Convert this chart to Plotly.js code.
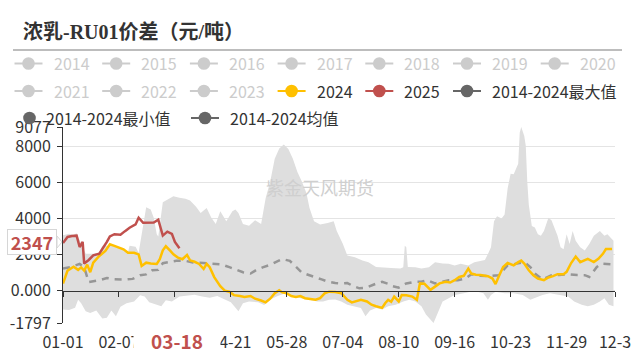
<!DOCTYPE html>
<html><head><meta charset="utf-8">
<script src="https://cdn.plot.ly/plotly-3.0.1.min.js"></script>
<style>html,body{margin:0;padding:0;background:#fff;}#chart{width:640px;height:355px;}</style>
</head><body><div id="chart"></div>
<script>
// ---------- data (MM-DD on a 2024 calendar axis) ----------
const tickDates = ['01-01','02-07','03-15','04-21','05-28','07-04','08-10','09-16','10-23','11-29','12-31'];
const tickLabels = ['01-01','02-07','','04-21','05-28','07-04','08-10','09-16','10-23','11-29','12-3'];
const yTickVals = [-1797, 0, 2000, 4000, 6000, 8000, 9077];
const yTickText = ['-1797', '0.000', '2000', '4000', '6000', '8000', '9077'];

const maxDates = ['01-01','01-05','01-08','01-10','01-13','01-16','01-21','01-25','01-27','02-05','02-09','02-13','02-14','02-18','02-20','02-23','02-25','02-28','03-01','03-03','03-04','03-07','03-11','03-14','03-18','03-22','03-25','03-29','04-01','04-05','04-08','04-11','04-14','04-18','04-22','04-24','04-26','04-29','05-03','05-07','05-11','05-14','05-17','05-20','05-23','05-26','05-29','06-01','06-04','06-07','06-10','06-12','06-15','06-19','06-24','06-28','06-30','07-04','07-07','07-12','07-17','07-21','07-26','07-31','08-05','08-11','08-13','08-14','08-15','08-16','08-21','08-25','08-30','09-03','09-08','09-12','09-16','09-20','09-25','09-29','10-03','10-06','10-08','10-10','10-12','10-14','10-17','10-19','10-21','10-23','10-25','10-28','10-29','10-30','11-01','11-02','11-03','11-04','11-06','11-08','11-10','11-12','11-14','11-17','11-19','11-21','11-23','11-25','11-27','11-29','12-01','12-03','12-05','12-08','12-11','12-14','12-17','12-21','12-24','12-26','12-30'];
const maxVals = [3070,3150,3100,3180,2600,2040,2050,2100,2490,2490,2310,2130,2490,2440,2100,3490,4620,4500,4036,3130,3000,4900,5100,5230,5150,5100,5000,4650,4300,4580,4050,3700,4400,3850,4400,4500,4300,3700,3600,3900,3700,5120,6040,7310,7890,8100,7850,7310,6580,6040,5400,4580,3850,3670,3750,3850,3310,2600,1950,1850,1670,1580,1310,1300,1250,1220,1300,2490,2400,1310,1300,1220,1300,1580,1500,1490,1400,1490,1400,1580,1670,1700,2036,2400,3850,4130,4000,4220,5670,6490,6450,7040,8760,9077,8580,8040,6040,4760,3580,3500,3130,3050,3310,4036,3900,3490,3040,2400,2300,3130,2580,3310,2760,2400,2220,2580,3040,3310,3050,3130,2760];

const minDates = ['01-01','01-05','01-09','01-11','01-13','01-16','01-19','01-23','01-27','01-30','02-02','02-05','02-08','02-12','02-17','02-21','02-24','02-27','03-02','03-06','03-09','03-13','03-18','03-22','03-28','04-02','04-07','04-12','04-17','04-21','04-26','04-29','05-03','05-09','05-13','05-17','05-22','05-27','06-01','06-06','06-12','06-17','06-21','06-25','06-29','07-03','07-07','07-12','07-16','07-19','07-22','07-26','07-30','08-03','08-08','08-13','08-17','08-21','08-25','08-28','09-02','09-05','09-08','09-12','09-16','09-22','09-27','10-01','10-05','10-08','10-10','10-13','10-19','10-25','10-31','11-05','11-08','11-13','11-18','11-25','11-30','12-04','12-09','12-13','12-17','12-21','12-24','12-27','12-30'];
const minVals = [-1050,-1080,-950,-510,-700,-1145,-1240,-1100,-1550,-1500,-1100,-1420,-900,-700,-600,-260,-330,-650,-750,-870,-540,-600,-330,-300,-236,-330,-400,-300,-500,-650,-1145,-700,-600,-650,-800,-500,-300,-145,-250,-420,-510,-600,-600,-510,-500,-600,-780,-870,-960,-1420,-1100,-960,-1050,-870,-780,-600,-510,-600,-870,-1330,-1797,-1200,-600,-420,-240,-150,-55,-60,-145,-510,-250,-60,-145,-145,-250,-510,-420,-250,-145,-250,-327,-600,-780,-870,-780,-600,-420,-780,-870];

const avgDates = ['01-01','01-06','01-12','01-15','01-18','01-22','01-26','01-30','02-04','02-11','02-16','02-21','02-25','02-29','03-04','03-07','03-12','03-16','03-22','03-27','04-03','04-10','04-15','04-20','04-25','04-29','05-04','05-08','05-12','05-17','05-21','05-25','05-30','06-03','06-07','06-12','06-16','06-20','06-24','06-29','07-03','07-07','07-11','07-15','07-19','07-23','07-27','07-30','08-03','08-06','08-10','08-15','08-20','08-25','08-29','09-03','09-08','09-12','09-18','09-23','09-27','10-03','10-08','10-15','10-21','10-28','11-01','11-05','11-08','11-13','11-19','11-24','11-30','12-06','12-11','12-14','12-19','12-22','12-30'];
const avgVals = [1220,1300,1480,1290,470,520,600,700,630,610,650,850,900,1130,1150,1520,1570,1650,1650,1560,1530,1480,1450,1300,1150,1020,950,1150,1290,1430,1600,1750,1650,1350,1000,850,750,620,500,420,400,420,250,127,150,300,420,490,380,250,164,400,480,490,580,400,490,580,580,670,910,820,800,855,1400,1490,1580,1310,945,620,855,860,910,860,855,760,1310,1490,1450];

const y2024Dates = ['01-01','01-04','01-08','01-11','01-13','01-15','01-17','01-19','01-21','01-25','01-29','02-01','02-04','02-07','02-10','02-13','02-17','02-20','02-22','02-25','02-28','03-03','03-05','03-07','03-09','03-12','03-14','03-17','03-20','03-23','03-25','03-28','03-31','04-03','04-05','04-07','04-10','04-14','04-17','04-20','04-23','04-27','04-30','05-04','05-07','05-11','05-14','05-17','05-20','05-23','05-25','05-28','05-31','06-03','06-06','06-09','06-13','06-16','06-19','06-22','06-25','06-29','07-03','07-07','07-10','07-13','07-16','07-20','07-23','07-26','07-30','08-01','08-03','08-05','08-07','08-10','08-12','08-15','08-19','08-22','08-24','08-27','08-31','09-03','09-06','09-10','09-13','09-16','09-19','09-22','09-25','09-27','09-30','10-03','10-08','10-11','10-13','10-15','10-18','10-21','10-25','10-28','10-30','11-01','11-04','11-07','11-10','11-14','11-17','11-20','11-23','11-27','11-29','12-02','12-05','12-08','12-11','12-13','12-17','12-20','12-23','12-25','12-29'];
const y2024Vals = [390,1110,1330,1150,1290,1110,1440,1020,1550,1920,2200,2570,2480,2380,2290,2100,2100,2010,1370,1550,1500,1480,1740,2240,2460,2200,2010,1830,1740,1980,1680,1600,1480,1200,1480,1300,750,250,0,-60,-250,-300,-350,-300,-450,-550,-650,-450,-150,20,-100,-150,-300,-350,-300,-420,-450,-510,-420,-150,-60,-80,-145,-510,-650,-600,-510,-600,-780,-870,-960,-700,-510,-620,-330,-600,-240,-260,-330,-510,400,380,40,220,400,490,450,580,760,820,1220,945,880,860,800,670,364,760,1310,1530,1400,1580,1670,1500,1130,855,670,580,730,800,910,910,1040,1530,1890,1580,1710,1760,1580,1760,2040,2310,2310];

const y2025Dates = ['01-01','01-04','01-07','01-10','01-12','01-14','01-15','01-18','01-21','01-25','01-30','02-01','02-04','02-08','02-11','02-14','02-18','02-20','02-23','02-26','03-01','03-04','03-07','03-10','03-13','03-15','03-18'];
const y2025Vals = [2640,2980,3030,3050,2420,2700,1500,1700,1960,2050,2700,3010,3130,3100,3300,3490,3670,4040,3760,3760,3780,3930,3050,3270,3150,2700,2347];

const pointerDate = '03-18';
const pointerValue = 2347;

const legendNames = ['2014','2015','2016','2017','2018','2019','2020','2021','2022','2023','2024','2025','2014-2024最大值','2014-2024最小值','2014-2024均值'];

// ---------- helpers ----------
const D = a => a.map(d => '2024-' + d);
const W = 640, H = 355, ML = 63, MR = 25, MT = 127, MB = 32;
const PW = W - ML - MR, PH = H - MT - MB;
const px2x = p => (p - ML) / PW;
const py2y = p => (H - MB - p) / PH;
const FONT = 'Noto Sans CJK SC, Noto Sans, sans-serif';
const RED = '#C0504D', YEL = '#FFC000', GRAYL = '#cccccc', DARK = '#666666';
const yMin = yTickVals[0], yMax = yTickVals[yTickVals.length - 1];

const traces = [
  {x: D(minDates), y: minVals, type: 'scatter', mode: 'lines', line: {width: 0, color: '#dcdcdc'}, hoverinfo: 'skip', showlegend: false},
  {x: D(maxDates), y: maxVals, type: 'scatter', mode: 'lines', line: {width: 0, color: '#dcdcdc'}, fill: 'tonexty', fillcolor: '#dedede', hoverinfo: 'skip', showlegend: false},
  {x: D(avgDates), y: avgVals, type: 'scatter', mode: 'lines', line: {width: 2.5, color: '#969696', dash: '7px,6px'}, hoverinfo: 'skip', showlegend: false},
  {x: D(y2024Dates), y: y2024Vals, type: 'scatter', mode: 'lines', line: {width: 2.5, color: YEL}, hoverinfo: 'skip', showlegend: false},
  {x: D(y2025Dates), y: y2025Vals, type: 'scatter', mode: 'lines', line: {width: 2.5, color: RED}, hoverinfo: 'skip', showlegend: false},
  {x: D([tickDates[0]]), y: [null], xaxis: 'x2', type: 'scatter', mode: 'lines', hoverinfo: 'skip', showlegend: false}
];

// ---------- legend (drawn as shapes + text) ----------
const shapes = [], annotations = [];
function legendItem(name, cx, cy, color, textColor, withLine, textDx) {
  if (withLine) shapes.push({type: 'line', xref: 'paper', yref: 'paper', x0: px2x(cx - 14), x1: px2x(cx + 14), y0: py2y(cy), y1: py2y(cy), line: {color: color, width: 2}});
  shapes.push({type: 'circle', xref: 'paper', yref: 'paper', x0: px2x(cx - 6.3), x1: px2x(cx + 6.3), y0: py2y(cy + 6.3), y1: py2y(cy - 6.3), fillcolor: color, line: {width: 0}});
  annotations.push({xref: 'paper', yref: 'paper', x: px2x(cx + textDx), y: py2y(cy), xanchor: 'left', yanchor: 'middle', text: name, showarrow: false, font: {family: FONT, size: 16, color: textColor}});
}
const rowY = [63.5, 91, 118];
const colX = i => 28.5 + 87.7 * i;
legendNames.forEach((n, i) => {
  let color = GRAYL, tc = GRAYL;
  if (n === '2024') { color = YEL; tc = '#333'; }
  else if (n === '2025') { color = RED; tc = '#333'; }
  else if (n.indexOf('-') > 0) { color = DARK; tc = '#333'; }
  if (i < 7) legendItem(n, colX(i), rowY[0], color, tc, true, 23);
  else if (i < 13) legendItem(n, colX(i - 7), rowY[1], color, tc, true, 23);
  else if (i === 13) legendItem(n, 29.5, rowY[2], color, tc, false, 14);
  else legendItem(n, 205, rowY[2], color, tc, true, 23);
});

// rule under the title
shapes.push({type: 'line', xref: 'paper', yref: 'paper', x0: px2x(13), x1: px2x(622), y0: py2y(50), y1: py2y(50), line: {color: '#bdbdbd', width: 2}});

// watermark
annotations.push({xref: 'paper', yref: 'paper', x: px2x(320), y: py2y(172), text: '紫金天风期货', showarrow: false, font: {family: FONT, size: 18, color: '#cfcfcf'}});

// axis pointer labels
annotations.push({xref: 'x', yref: 'paper', x: '2024-' + pointerDate, xshift: -2, y: py2y(340), xanchor: 'center', yanchor: 'middle', text: '<b>' + pointerDate + '</b>', showarrow: false, bgcolor: '#ffffff', width: 84, height: 24, font: {family: FONT, size: 19, color: RED}});
shapes.push({type: 'path', xref: 'paper', yref: 'paper', path: 'M' + px2x(57) + ',' + py2y(236) + ' L' + px2x(62) + ',' + py2y(242) + ' L' + px2x(57) + ',' + py2y(248) + ' Z', fillcolor: '#ffffff', line: {color: '#d6d6d6', width: 1}});
annotations.push({xref: 'paper', yref: 'y', x: px2x(32), y: pointerValue, yshift: 6, xanchor: 'center', yanchor: 'middle', text: '<b>' + pointerValue + '</b>', showarrow: false, bgcolor: '#ffffff', bordercolor: '#d6d6d6', borderwidth: 1, width: 46, height: 22, font: {family: FONT, size: 18, color: RED}});

const layout = {
  width: W, height: H,
  margin: {l: ML, r: MR, t: MT, b: MB, pad: 0},
  paper_bgcolor: '#ffffff', plot_bgcolor: '#ffffff',
  font: {family: FONT, size: 16, color: '#333'},
  showlegend: false,
  title: {text: '<b>浓乳-RU01价差（元/吨）</b>', x: 23 / W, xanchor: 'left', xref: 'container', y: 1 - 32 / H, yref: 'container', yanchor: 'middle', font: {family: 'Liberation Serif, Noto Sans CJK SC, serif', size: 20, color: '#333'}},
  xaxis: {
    type: 'date', range: ['2024-01-01', '2024-12-31'], anchor: 'free', position: (0 - yMin) / (yMax - yMin),
    tickmode: 'array', tickvals: D(tickDates), showticklabels: false,
    ticks: 'outside', ticklen: 5, tickcolor: '#333', tickwidth: 1,
    showline: true, linecolor: '#333', linewidth: 1, showgrid: false, zeroline: false
  },
  xaxis2: {
    type: 'date', range: ['2024-01-01', '2024-12-31'], overlaying: 'x', anchor: 'y', side: 'bottom',
    tickmode: 'array', tickvals: D(tickDates), ticktext: tickLabels, ticks: '', ticklabelstandoff: 8,
    showline: false, showgrid: false, zeroline: false, tickfont: {family: FONT, size: 16, color: '#333'}
  },
  yaxis: {
    range: [yMin, yMax], tickmode: 'array', tickvals: yTickVals, ticktext: yTickText,
    ticks: 'outside', ticklen: 5, tickcolor: '#333', showline: true, linecolor: '#333', linewidth: 1,
    showgrid: true, gridcolor: '#e4e4e4', zeroline: false, ticklabelstandoff: 3,
    tickfont: {family: FONT, size: 16, color: '#333'}
  },
  shapes: shapes,
  annotations: annotations
};

Plotly.newPlot('chart', traces, layout, {staticPlot: true, displayModeBar: false});
</script>
</body></html>
